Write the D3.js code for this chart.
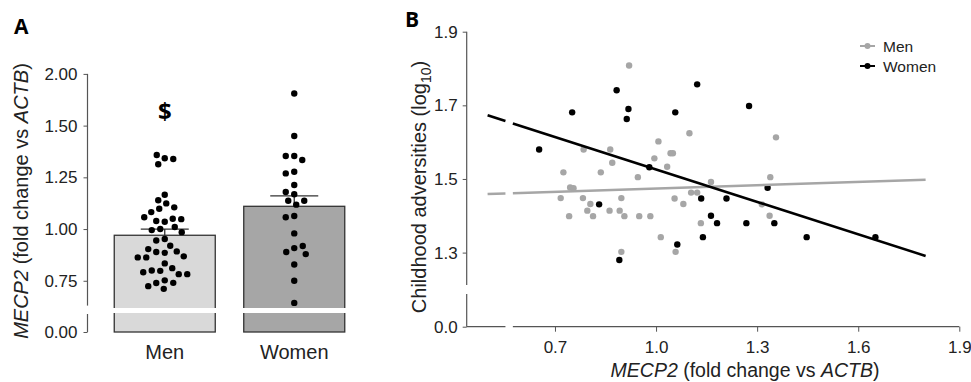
<!DOCTYPE html>
<html>
<head>
<meta charset="utf-8">
<script src="https://cdn.jsdelivr.net/npm/d3@7"></script>
<style>
  body { margin: 0; background: #fff; }
  svg { display: block; font-family: "Liberation Sans", Arial, sans-serif; }
  .tick text { fill: #222; }
  .tick line { stroke: #555; }
</style>
</head>
<body>
<svg id="chart" width="971" height="382"></svg>
<script>
// ---- Panel A data: MECP2 expression per group ----
const groups = ["Men", "Women"];
const barMeans = [0.97, 1.11];
const barSEM = [0.03, 0.05];
const menExpr = [1.342, 1.358, 1.339, 1.313, 1.166, 1.139, 1.124, 1.105, 1.098, 1.082,
  1.035, 1.039, 1.050, 1.048, 1.057, 1.010, 1.000, 0.995, 0.985, 0.952, 0.945, 0.919,
  0.885, 0.889, 0.892, 0.903, 0.863, 0.868, 0.863, 0.834, 0.798, 0.811, 0.800, 0.782,
  0.791, 0.782, 0.752, 0.739, 0.740, 0.724, 0.711];
const womenExpr = [1.655, 1.450, 1.353, 1.353, 1.334, 1.277, 1.269, 1.213, 1.168, 1.179,
  1.137, 1.118, 1.137, 1.063, 1.057, 0.979, 0.908, 0.889, 0.918, 0.879, 0.829, 0.750, 0.643];
const tickValsA = [0, 0.75, 1.0, 1.25, 1.5, 1.75];
const tickLabelsA = ["0.00", "0.75", "1.00", "1.25", "1.50", "2.00"];

// ---- Panel B data: MECP2 vs childhood adversities ----
const menX = [0.920, 0.785, 0.864, 0.870, 0.725, 0.836, 0.946, 0.745, 0.755, 0.717, 0.783,
  0.805, 0.796, 0.813, 0.742, 0.862, 0.892, 0.897, 0.906, 0.950, 0.983, 1.014, 0.897,
  1.007, 1.099, 1.043, 1.050, 0.995, 1.033, 1.163, 1.356, 1.339, 1.104, 1.122, 1.081,
  1.055, 1.314, 1.133, 1.337, 1.058];
const menY = [1.808, 1.580, 1.580, 1.544, 1.518, 1.518, 1.505, 1.477, 1.475, 1.448, 1.448,
  1.432, 1.414, 1.399, 1.399, 1.414, 1.414, 1.448, 1.399, 1.399, 1.399, 1.342, 1.302,
  1.602, 1.624, 1.570, 1.570, 1.556, 1.533, 1.492, 1.613, 1.505, 1.463, 1.463, 1.432,
  1.447, 1.431, 1.380, 1.400, 1.302];
const womenX = [0.653, 0.751, 0.883, 0.918, 0.913, 0.831, 0.891, 1.122, 1.057, 1.276, 0.980,
  1.331, 1.134, 1.209, 1.163, 1.181, 1.268, 1.351, 1.139, 1.063, 1.447, 1.651];
const womenY = [1.580, 1.681, 1.741, 1.690, 1.663, 1.431, 1.280, 1.757, 1.681, 1.698, 1.532,
  1.476, 1.447, 1.447, 1.400, 1.380, 1.380, 1.380, 1.342, 1.322, 1.342, 1.342];
const fitX = [0.5, 1.8];
const menFitY = [1.459, 1.498];
const womenFitY = [1.673, 1.291];
const tickValsBX = [0.7, 1.0, 1.3, 1.6, 1.9];
const tickValsBY = [0, 1.3, 1.5, 1.7, 1.9];

const svg = d3.select("#chart");
const axisColor = "#555";
const menGray = "#a6a6a6";

// ================= Panel A =================
// broken y scale: 0..0.087 at the bottom, 0.63..1.75 above the break
const yA = d3.scaleLinear()
  .domain([0, 0.087, 0.63, 1.75])
  .range([332, 314, 305.6, 73.9]);
const xA = d3.scaleBand().domain(groups).range([100, 359])
  .paddingInner(0.22).paddingOuter(0.11);

const gA = svg.append("g");

gA.append("text").attr("x", 14).attr("y", 34)
  .style("font-family", "'Open Sans', sans-serif").style("font-weight", 700)
  .style("font-size", "21px").text("A");

const axA = gA.append("g").attr("transform", "translate(87.5,0)")
  .call(d3.axisLeft(yA).tickValues(tickValsA).tickSize(4).tickPadding(6)
    .tickFormat((d, i) => tickLabelsA[i]));
axA.select(".domain").remove();
axA.selectAll("text").style("font-size", "17px");
[[0.63, 1.75], [0, 0.087]].forEach(seg => {
  gA.append("line").attr("x1", 87.5).attr("x2", 87.5)
    .attr("y1", yA(seg[0])).attr("y2", yA(seg[1]))
    .attr("stroke", axisColor).attr("stroke-width", 1.2);
});

const barFill = ["#d9d9d9", "#a6a6a6"];
gA.selectAll("rect.bar").data(groups).enter().append("rect")
  .attr("class", "bar")
  .attr("x", d => xA(d)).attr("width", xA.bandwidth())
  .attr("y", (d, i) => yA(barMeans[i]))
  .attr("height", (d, i) => yA(0) - yA(barMeans[i]))
  .attr("fill", (d, i) => barFill[i])
  .attr("stroke", "#333").attr("stroke-width", 1.3);

// white break band across the bars
gA.append("rect").attr("x", xA(groups[0]) - 3).attr("y", 308)
  .attr("width", xA(groups[1]) + xA.bandwidth() - xA(groups[0]) + 6)
  .attr("height", 5).attr("fill", "#fff");

// error bars
groups.forEach((g, i) => {
  const cx = xA(g) + xA.bandwidth() / 2;
  gA.append("line").attr("x1", cx).attr("x2", cx)
    .attr("y1", yA(barMeans[i])).attr("y2", yA(barMeans[i] + barSEM[i]))
    .attr("stroke", "#333").attr("stroke-width", 1.3);
  gA.append("line").attr("x1", cx - 24).attr("x2", cx + 24)
    .attr("y1", yA(barMeans[i] + barSEM[i])).attr("y2", yA(barMeans[i] + barSEM[i]))
    .attr("stroke", "#333").attr("stroke-width", 1.3);
});

// simple greedy beeswarm so the dots spread sideways like the original
function swarm(values, cx, diam) {
  const placed = [];
  return values.map(v => {
    const y = yA(v);
    let best = 0;
    for (let k = 0; k < 400; k++) {
      const off = (k % 2 === 0 ? 1 : -1) * Math.ceil(k / 2) * 0.5;
      const ok = placed.every(p => (p.x - (cx + off)) ** 2 + (p.y - y) ** 2 >= diam * diam);
      if (ok) { best = off; break; }
    }
    const pt = { x: cx + best, y: y };
    placed.push(pt);
    return pt;
  });
}

[menExpr, womenExpr].forEach((vals, i) => {
  const cx = xA(groups[i]) + xA.bandwidth() / 2;
  const pts = swarm(vals, cx, 8.5);
  gA.selectAll(null).data(pts).enter().append("circle")
    .attr("cx", d => d.x).attr("cy", d => d.y).attr("r", 3.2).attr("fill", "#000");
});

gA.append("text").attr("x", xA("Men") + xA.bandwidth() / 2).attr("y", 120)
  .attr("text-anchor", "middle").attr("fill", "#000")
  .style("font-family", "'Open Sans', sans-serif").style("font-weight", 700)
  .style("font-size", "24px").text("$");

gA.selectAll("text.cat").data(groups).enter().append("text")
  .attr("class", "cat")
  .attr("x", d => xA(d) + xA.bandwidth() / 2).attr("y", 359)
  .attr("text-anchor", "middle").style("font-size", "20px").attr("fill", "#222")
  .text(d => d);

const ytA = gA.append("text").attr("transform", "translate(28,201) rotate(-90)")
  .attr("text-anchor", "middle").style("font-size", "20px").attr("fill", "#222");
ytA.append("tspan").style("font-style", "italic").text("MECP2");
ytA.append("tspan").text(" (fold change vs ");
ytA.append("tspan").style("font-style", "italic").text("ACTB");
ytA.append("tspan").text(")");

// ================= Panel B =================
const xB = d3.scaleLinear().domain([0.438, 1.9]).range([466.7, 959.3]);
const yB = d3.scaleLinear()
  .domain([0, 0.089, 1.212, 1.9])
  .range([326.7, 294, 285, 31.7]);
const xBreak = [0.553, 0.575];

const gB = svg.append("g");

gB.append("text").attr("x", 405).attr("y", 27)
  .style("font-family", "'Open Sans', sans-serif").style("font-weight", 700)
  .style("font-size", "21px").text("B");

const axBY = gB.append("g").attr("transform", "translate(466.7,0)")
  .call(d3.axisLeft(yB).tickValues(tickValsBY).tickSize(4).tickPadding(5)
    .tickFormat(d3.format(".1f")));
axBY.select(".domain").remove();
axBY.selectAll("text").style("font-size", "17px");
[[1.212, 1.9], [0, 0.089]].forEach(seg => {
  gB.append("line").attr("x1", 466.7).attr("x2", 466.7)
    .attr("y1", yB(seg[0])).attr("y2", yB(seg[1]))
    .attr("stroke", axisColor).attr("stroke-width", 1.2);
});

const axBX = gB.append("g").attr("transform", "translate(0,326.7)")
  .call(d3.axisBottom(xB).tickValues(tickValsBX).tickSize(5).tickPadding(9)
    .tickFormat(d3.format(".1f")));
axBX.select(".domain").remove();
axBX.selectAll("text").style("font-size", "17px");
[[0.438, xBreak[0]], [xBreak[1], 1.9]].forEach(seg => {
  gB.append("line").attr("y1", 326.7).attr("y2", 326.7)
    .attr("x1", xB(seg[0])).attr("x2", xB(seg[1]))
    .attr("stroke", axisColor).attr("stroke-width", 1.2);
});

// dots
gB.selectAll(null).data(d3.zip(menX, menY)).enter().append("circle")
  .attr("cx", d => xB(d[0])).attr("cy", d => yB(d[1])).attr("r", 3.2).attr("fill", menGray);
gB.selectAll(null).data(d3.zip(womenX, womenY)).enter().append("circle")
  .attr("cx", d => xB(d[0])).attr("cy", d => yB(d[1])).attr("r", 3.2).attr("fill", "#000");

// regression lines, split at the x-axis break
function fitLine(fy, color) {
  const f = d3.scaleLinear().domain(fitX).range(fy);
  [[fitX[0], xBreak[0]], [xBreak[1], fitX[1]]].forEach(seg => {
    gB.append("line")
      .attr("x1", xB(seg[0])).attr("y1", yB(f(seg[0])))
      .attr("x2", xB(seg[1])).attr("y2", yB(f(seg[1])))
      .attr("stroke", color).attr("stroke-width", 2.6);
  });
}
fitLine(menFitY, menGray);
fitLine(womenFitY, "#000");

// legend
const legend = [["Men", menGray], ["Women", "#000"]];
legend.forEach((d, i) => {
  const ly = 46 + i * 20;
  gB.append("line").attr("x1", 860).attr("x2", 875).attr("y1", ly).attr("y2", ly)
    .attr("stroke", d[1]).attr("stroke-width", 2);
  gB.append("circle").attr("cx", 867.5).attr("cy", ly).attr("r", 3).attr("fill", d[1]);
  gB.append("text").attr("x", 883).attr("y", ly + 5.5).style("font-size", "15.5px")
    .attr("fill", "#222").text(d[0]);
});

// axis titles
const ytB = gB.append("text").attr("transform", "translate(426,187) rotate(-90)")
  .attr("text-anchor", "middle").style("font-size", "20px").attr("fill", "#222");
ytB.append("tspan").text("Childhood adversities (log");
ytB.append("tspan").attr("dy", 5).style("font-size", "14px").text("10");
ytB.append("tspan").attr("dy", -5).text(")");

const xtB = gB.append("text").attr("x", 745).attr("y", 377)
  .attr("text-anchor", "middle").style("font-size", "19.5px").attr("fill", "#222");
xtB.append("tspan").style("font-style", "italic").text("MECP2");
xtB.append("tspan").text(" (fold change vs ");
xtB.append("tspan").style("font-style", "italic").text("ACTB");
xtB.append("tspan").text(")");
</script>
</body>
</html>
